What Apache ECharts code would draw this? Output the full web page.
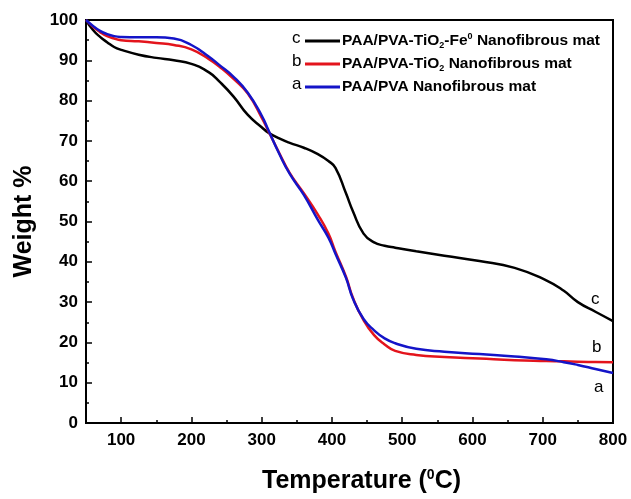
<!DOCTYPE html>
<html>
<head>
<meta charset="utf-8">
<script src="https://cdn.jsdelivr.net/npm/echarts@6/dist/echarts.min.js"></script>
<style>
  html, body { margin: 0; padding: 0; background: #fff; }
  #main { width: 631px; height: 499px; }
</style>
</head>
<body>
<div id="main"></div>
<script>
// temperature (C) samples shared by all three curves
var temps = [50, 60, 70, 80, 90, 100, 125, 150, 175, 200, 225, 240, 260, 280, 300, 310, 325, 340, 360, 380,
             395, 405, 420, 430, 445, 460, 475, 490, 520, 560, 610, 660, 705, 730, 750, 775, 800];
// c: PAA/PVA-TiO2-Fe0
var weightC = [100, 97.5, 95.8, 94.5, 93.3, 92.6, 91.4, 90.6, 90, 89.1, 87, 84.7, 81, 76.5, 73.4, 72.0, 70.6, 69.5, 68.3, 66.7,
               65, 63.3, 57, 52.5, 47, 44.8, 44, 43.5, 42.6, 41.5, 40.2, 38.5, 35.4, 32.8, 30, 27.6, 25.3];
// b: PAA/PVA-TiO2
var weightB = [100, 98.3, 97, 96, 95.4, 95, 94.7, 94.3, 93.8, 92.7, 90.3, 88.4, 85.4, 81.8, 75.8, 72.3, 67, 62, 57, 51.7,
               47, 42.5, 36.3, 31, 25.5, 21.8, 19.5, 17.9, 16.9, 16.4, 16, 15.6, 15.4, 15.3, 15.2, 15.15, 15.1];
// a: PAA/PVA
var weightA = [100, 98.5, 97.3, 96.5, 96, 95.8, 95.7, 95.7, 95.4, 93.8, 90.9, 88.8, 85.9, 82, 76.3, 72.5, 66.8, 61.8, 56.6, 50.4,
               46, 42, 36, 30.8, 25.8, 23, 21, 19.8, 18.4, 17.7, 17.1, 16.5, 15.8, 15.1, 14.4, 13.4, 12.4];

var xMajor = [100, 200, 300, 400, 500, 600, 700, 800];
var xMinor = [150, 250, 350, 450, 550, 650, 750];

var names = ['c', 'b', 'a'];
var fullNames = {
  c: 'PAA/PVA-TiO{sub|2}-Fe{sup|0} Nanofibrous mat',
  b: 'PAA/PVA-TiO{sub|2} Nanofibrous mat',
  a: 'PAA/PVA Nanofibrous mat'
};

function pairs(xs, ys) {
  return xs.map(function (x, i) { return [x, ys[i]]; });
}

var fontFam = '"Liberation Sans", Arial, sans-serif';
var myChart = echarts.init(document.getElementById('main'));

var option = {
  backgroundColor: '#fff',
  animation: false,
  grid: {
    left: 86, right: 18, top: 20, bottom: 72,
    show: true, borderColor: '#000', borderWidth: 2
  },
  legend: {
    data: names,
    orient: 'vertical',
    left: 300, top: 27,
    itemWidth: 35, itemHeight: 3,
    itemGap: 6,
    icon: 'rect',
    formatter: function (n) { return fullNames[n]; },
    textStyle: {
      color: '#000', fontFamily: fontFam, fontWeight: 'bold', fontSize: 15.5, padding: [0, 0, 0, -3],
      rich: {
        sub: { fontSize: 9, fontWeight: 'bold', fontFamily: fontFam, verticalAlign: 'bottom', padding: [9, 0, 0, 0] },
        sup: { fontSize: 9, fontWeight: 'bold', fontFamily: fontFam, verticalAlign: 'top', padding: [0, 0, 9, 0] }
      }
    }
  },
  xAxis: [{
    type: 'value', min: 50, max: 800,
    name: 'Temperature ({sup|0}C)',
    nameLocation: 'middle', nameGap: 45,
    nameTextStyle: {
      color: '#000', fontFamily: fontFam, fontWeight: 'bold', fontSize: 25, padding: [0, 0, 0, 24],
      rich: { sup: { fontSize: 14, fontWeight: 'bold', fontFamily: fontFam, verticalAlign: 'top', padding: [0, 0, 13, 0] } }
    },
    axisLine: { show: true, lineStyle: { color: '#000', width: 2 } },
    axisTick: { show: true, inside: true, length: 6, customValues: xMajor, lineStyle: { color: '#000', width: 1.5 } },
    axisLabel: { customValues: xMajor, color: '#000', fontFamily: fontFam, fontWeight: 'bold', fontSize: 17, margin: 9 },
    splitLine: { show: false }
  }, {
    type: 'value', min: 50, max: 800, position: 'bottom',
    axisLine: { show: false },
    axisTick: { show: true, inside: true, length: 3, customValues: xMinor, lineStyle: { color: '#000', width: 1.5 } },
    axisLabel: { show: false },
    splitLine: { show: false }
  }],
  yAxis: {
    type: 'value', min: 0, max: 100, interval: 10,
    name: 'Weight %',
    nameLocation: 'middle', nameGap: 49,
    nameTextStyle: { color: '#000', fontFamily: fontFam, fontWeight: 'bold', fontSize: 25 },
    axisLine: { show: true, lineStyle: { color: '#000', width: 2 } },
    axisTick: { show: true, inside: true, length: 6, lineStyle: { color: '#000', width: 1.5 } },
    minorTick: { show: true, splitNumber: 2, length: 3, lineStyle: { color: '#000', width: 1.5 } },
    axisLabel: { color: '#000', fontFamily: fontFam, fontWeight: 'bold', fontSize: 17, margin: 8 },
    splitLine: { show: false }
  },
  graphic: [
    { type: 'text', left: 292, top: 30, style: { text: 'c', font: '17px ' + fontFam, fill: '#000' } },
    { type: 'text', left: 292, top: 53, style: { text: 'b', font: '17px ' + fontFam, fill: '#000' } },
    { type: 'text', left: 292, top: 76, style: { text: 'a', font: '17px ' + fontFam, fill: '#000' } },
    { type: 'text', left: 591, top: 291, style: { text: 'c', font: '17px ' + fontFam, fill: '#000' } },
    { type: 'text', left: 592, top: 339, style: { text: 'b', font: '17px ' + fontFam, fill: '#000' } },
    { type: 'text', left: 594, top: 379, style: { text: 'a', font: '17px ' + fontFam, fill: '#000' } }
  ],
  series: [{
    name: 'c', type: 'line', smooth: 0.5, showSymbol: false,
    data: pairs(temps, weightC),
    itemStyle: { color: '#000' },
    lineStyle: { color: '#000', width: 2.5 }
  }, {
    name: 'b', type: 'line', smooth: 0.5, showSymbol: false,
    data: pairs(temps, weightB),
    itemStyle: { color: '#e3141c' },
    lineStyle: { color: '#e3141c', width: 2.5 }
  }, {
    name: 'a', type: 'line', smooth: 0.5, showSymbol: false,
    data: pairs(temps, weightA),
    itemStyle: { color: '#1414c8' },
    lineStyle: { color: '#1414c8', width: 2.5 }
  }]
};
myChart.setOption(option);
</script>
</body>
</html>
